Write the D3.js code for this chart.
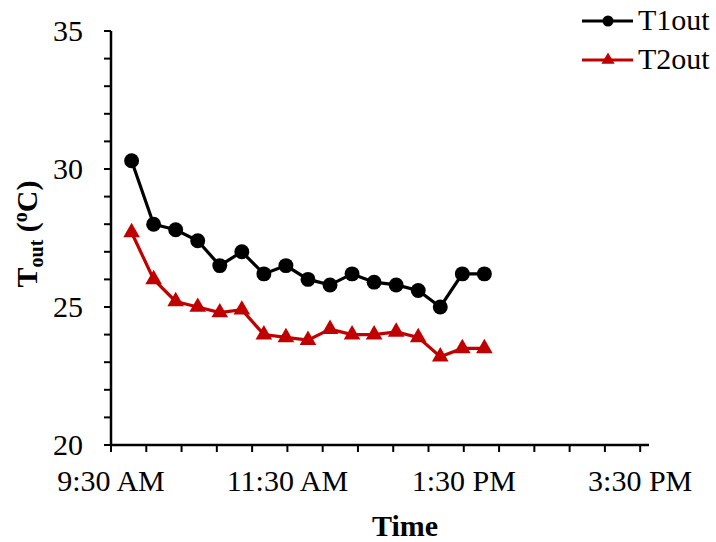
<!DOCTYPE html>
<meta charset="utf-8">
<head>
    <title>Tout over time</title>
    <script src="https://cdn.jsdelivr.net/npm/d3@7"></script>
    <style>
        body { margin: 0; background: #fff; }
    </style>
</head>
<body>
<script>
    // data
    var times = ["9:44", "9:59", "10:14", "10:29", "10:44", "10:59", "11:14", "11:29", "11:44",
                 "11:59", "12:14", "12:29", "12:44", "12:59", "13:14", "13:29", "13:44"];
    var t1out = [30.3, 28.0, 27.8, 27.4, 26.5, 27.0, 26.2, 26.5, 26.0, 25.8, 26.2, 25.9, 25.8, 25.6, 25.0, 26.2, 26.2];
    var t2out = [27.7, 26.0, 25.2, 25.0, 24.8, 24.9, 24.0, 23.9, 23.8, 24.2, 24.0, 24.0, 24.1, 23.9, 23.2, 23.5, 23.5];
    var xTickLabels = ["9:30 AM", "11:30 AM", "1:30 PM", "3:30 PM"];
    var yTicks = [20, 25, 30, 35];

    var width = 716, height = 542;
    var margin = {top: 31, right: 67, bottom: 97, left: 111};
    var serif = "'Liberation Serif', 'DejaVu Serif', serif";
    var fs = "30px";

    function toMin(s) {
        var p = s.split(":");
        return +p[0] * 60 + +p[1];
    }

    var svg = d3.select("body").append("svg")
        .attr("width", width)
        .attr("height", height)
        .attr("font-family", serif)
        .style("font-family", serif);

    // axis from 9:30 to 15:36
    var xScale = d3.scaleLinear()
        .domain([toMin("9:30"), toMin("15:36")])
        .range([margin.left, width - margin.right]);
    var yScale = d3.scaleLinear()
        .domain([20, 35])
        .range([height - margin.bottom, margin.top]);

    var x0 = margin.left, y0 = height - margin.bottom;

    // minor ticks every 24 min, majors every 2 h
    var xMinor = d3.range(toMin("9:30"), toMin("15:36") + 0.1, 24);
    var xMajor = d3.range(toMin("9:30"), toMin("15:36") + 0.1, 120);

    var xAxis = svg.append("g").attr("transform", "translate(0," + y0 + ")");
    xAxis.selectAll("line.tk").data(xMinor).enter().append("line")
        .attr("x1", d => xScale(d)).attr("x2", d => xScale(d))
        .attr("y1", 0).attr("y2", 7)
        .attr("stroke", "#000").attr("stroke-width", 2);
    xAxis.append("line")
        .attr("x1", x0 - 1).attr("x2", xScale(toMin("15:36")))
        .attr("y1", 0).attr("y2", 0)
        .attr("stroke", "#000").attr("stroke-width", 2.5);
    xAxis.selectAll("text.lbl").data(xMajor).enter().append("text")
        .attr("x", d => xScale(d))
        .attr("y", 46)
        .attr("text-anchor", "middle")
        .style("font-size", fs)
        .text((d, i) => xTickLabels[i]);

    var yAxis = svg.append("g").attr("transform", "translate(" + x0 + ",0)");
    yAxis.selectAll("line.tk").data(d3.range(20, 35.1, 1)).enter().append("line")
        .attr("x1", -7).attr("x2", 0)
        .attr("y1", d => yScale(d)).attr("y2", d => yScale(d))
        .attr("stroke", "#000").attr("stroke-width", 2);
    yAxis.append("line")
        .attr("x1", 0).attr("x2", 0)
        .attr("y1", yScale(35)).attr("y2", y0 + 1)
        .attr("stroke", "#000").attr("stroke-width", 2.5);
    yAxis.selectAll("text.lbl").data(yTicks).enter().append("text")
        .attr("x", -28)
        .attr("y", d => yScale(d) + 10)
        .attr("text-anchor", "end")
        .style("font-size", fs)
        .text(d => d);

    // axis titles
    svg.append("text")
        .attr("x", 405).attr("y", 536)
        .attr("text-anchor", "middle")
        .style("font-size", fs).style("font-weight", "bold")
        .text("Time");

    var yt = svg.append("text")
        .attr("transform", "translate(37,234) rotate(-90)")
        .attr("text-anchor", "middle")
        .style("font-size", fs).style("font-weight", "bold");
    yt.append("tspan").text("T");
    yt.append("tspan").attr("dy", 6).style("font-size", "20px").text("out");
    yt.append("tspan").attr("dy", -6).text(" (");
    yt.append("tspan").attr("dy", -10).style("font-size", "20px").text("o");
    yt.append("tspan").attr("dy", 10).text("C)");

    // series
    var series = [
        {name: "T1out", values: t1out, color: "#000000", shape: d3.symbolCircle, size: 175, legendSize: 95},
        {name: "T2out", values: t2out, color: "#c00000", shape: d3.symbolTriangle, size: 120, legendSize: 75}
    ];

    var line = d3.line()
        .x(d => xScale(toMin(d.t)))
        .y(d => yScale(d.v));

    series.forEach(function(s) {
        var pts = times.map((t, i) => ({t: t, v: s.values[i]}));
        svg.append("path")
            .datum(pts)
            .attr("d", line)
            .attr("fill", "none")
            .attr("stroke", s.color)
            .attr("stroke-width", 3.2);
        svg.selectAll(null).data(pts).enter().append("path")
            .attr("d", d3.symbol().type(s.shape).size(s.size))
            .attr("transform", d => "translate(" + xScale(toMin(d.t)) + "," + yScale(d.v) + ")")
            .attr("fill", s.color);
    });

    // legend
    var legend = svg.append("g").attr("transform", "translate(582,21)");
    series.forEach(function(s, i) {
        var g = legend.append("g").attr("transform", "translate(0," + (i * 39) + ")");
        g.append("line")
            .attr("x1", 0).attr("x2", 51).attr("y1", 0).attr("y2", 0)
            .attr("stroke", s.color).attr("stroke-width", 3);
        g.append("path")
            .attr("d", d3.symbol().type(s.shape).size(s.legendSize))
            .attr("transform", "translate(26,0)")
            .attr("fill", s.color);
        g.append("text")
            .attr("x", 56).attr("y", 9)
            .style("font-size", fs)
            .text(s.name);
    });
</script>
</body>
</html>
